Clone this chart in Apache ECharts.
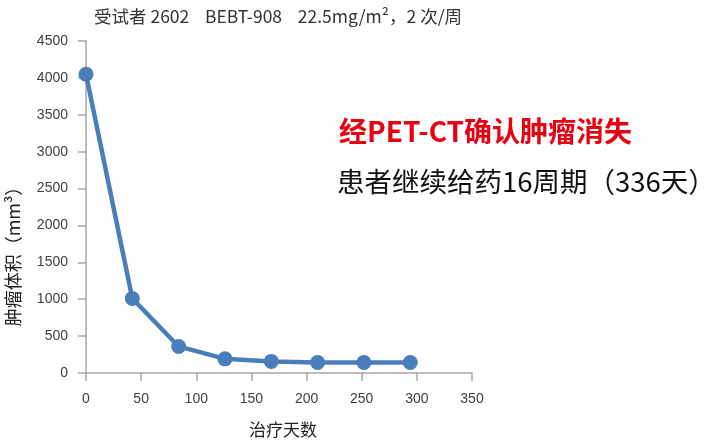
<!DOCTYPE html>
<html><head><meta charset="utf-8">
<script src="https://cdn.jsdelivr.net/npm/echarts@6/dist/echarts.min.js"></script>
<style>html,body{margin:0;padding:0;background:#fff}#c{width:706px;height:443px}</style>
</head><body><div id="c"></div>
<script>
const days = [0, 42, 84, 126, 168, 210, 252, 294];
const volumes = [4050, 1010, 360, 192, 157, 143, 143, 143];
const yTicks = [0, 500, 1000, 1500, 2000, 2500, 3000, 3500, 4000, 4500];
const xTicks = [0, 50, 100, 150, 200, 250, 300, 350];
const titleText = '受试者 2602    BEBT-908    22.5mg/m²，2 次/周';
const yName = '肿瘤体积（mm³）';
const xName = '治疗天数';
const note1 = '经PET-CT确认肿瘤消失';
const note2 = '患者继续给药16周期（336天）';

const chart = echarts.init(document.getElementById('c'));
chart.setOption({
  animation: false,
  backgroundColor: '#fff',
  textStyle: { fontFamily: 'Liberation Sans' },
  title: {
    text: titleText, left: 89, top: 3,
    textStyle: { fontSize: 17.5, fontWeight: 'normal', color: '#333', fontFamily: 'Noto Sans CJK SC' }
  },
  grid: { left: 86, top: 41, right: 234, bottom: 67 },
  xAxis: {
    type: 'value', min: yTicks[0], max: xTicks[xTicks.length - 1], interval: xTicks[1] - xTicks[0],
    name: xName, nameLocation: 'middle', nameGap: 48,
    nameTextStyle: { fontSize: 17, color: '#222', fontFamily: 'Noto Sans CJK SC', padding: [0, 0, 0, 8] },
    axisLine: { lineStyle: { color: '#a6a6a6', width: 1.5 } },
    axisTick: { show: true, length: 8, lineStyle: { color: '#a6a6a6', width: 1.5 } },
    axisLabel: { fontSize: 14, color: '#404040', margin: 19, fontFamily: 'Liberation Sans', formatter: v => String(v) },
    splitLine: { show: false }
  },
  yAxis: {
    type: 'value', min: yTicks[0], max: yTicks[yTicks.length - 1], interval: yTicks[1] - yTicks[0],
    axisLine: { show: true, lineStyle: { color: '#a6a6a6', width: 1.5 } },
    axisTick: { show: true, length: 8, lineStyle: { color: '#a6a6a6', width: 1.5 } },
    axisLabel: { fontSize: 14, color: '#404040', margin: 18, fontFamily: 'Liberation Sans', formatter: v => String(v) },
    splitLine: { show: false }
  },
  series: [{
    type: 'line',
    data: days.map((d, i) => [d, volumes[i]]),
    symbol: 'circle', symbolSize: 15,
    lineStyle: { color: '#4a7ebb', width: 4.5 },
    itemStyle: { color: '#4a7ebb' }
  }],
  graphic: [
    { type: 'text', x: 13, y: 252, rotation: Math.PI / 2,
      style: { text: yName, fill: '#222', font: '18px "Noto Sans CJK SC"', align: 'center', verticalAlign: 'middle' } },
    { type: 'text', left: 339, top: 117,
      style: { text: note1, fill: '#e60012', font: 'bold 28px "Noto Sans CJK SC"' } },
    { type: 'text', left: 337, top: 168,
      style: { text: note2, fill: '#111', font: '27.5px "Noto Sans CJK SC"' } }
  ]
});
</script></body></html>
